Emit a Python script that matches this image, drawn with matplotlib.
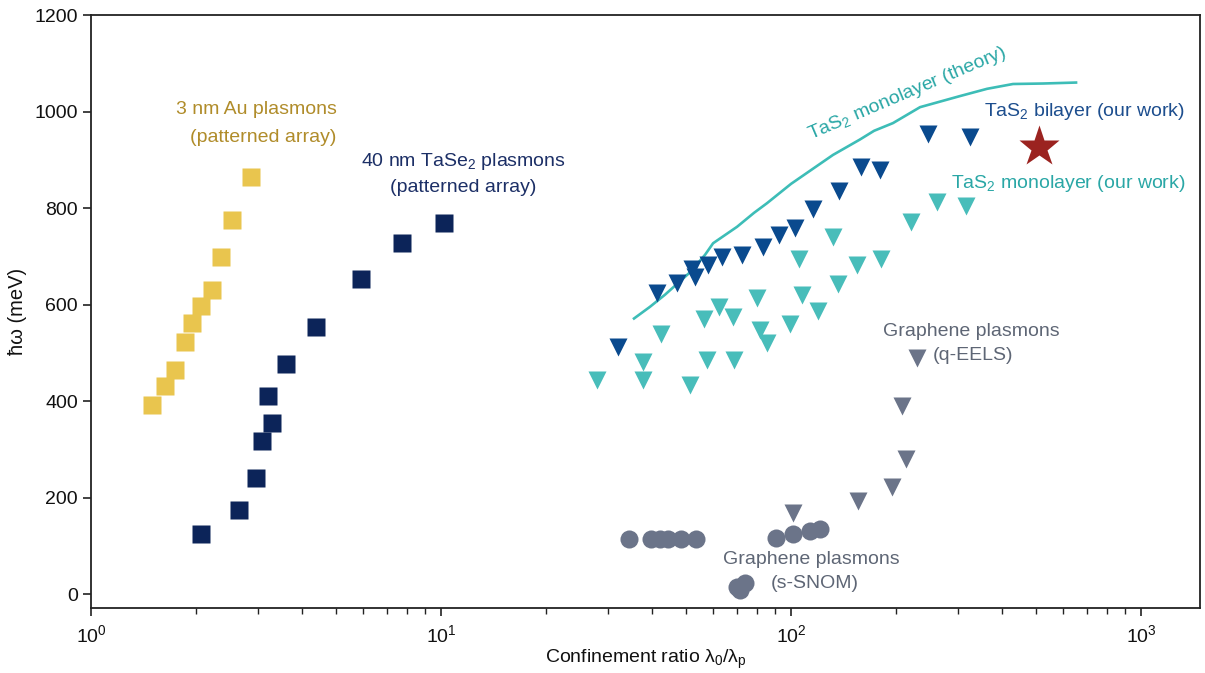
import matplotlib
matplotlib.use("Agg")
import matplotlib.pyplot as plt
import numpy as np

plt.rcParams['font.family'] = ['Liberation Sans', 'DejaVu Sans']
plt.rcParams['mathtext.fontset'] = 'custom'
plt.rcParams['mathtext.rm'] = 'Liberation Sans'
plt.rcParams['mathtext.it'] = 'Liberation Sans:italic'
plt.rcParams['mathtext.default'] = 'regular'

# ---------------- data ----------------
au_x = [1.49, 1.63, 1.74, 1.86, 1.94, 2.06, 2.22, 2.35, 2.53, 2.86]
au_y = [392, 432, 465, 522, 562, 597, 631, 699, 776, 864]

tase2_x = [2.06, 2.64, 2.97, 3.07, 3.28, 3.20, 3.61, 4.40, 5.91, 7.72, 10.2]
tase2_y = [125, 174, 240, 317, 355, 410, 477, 553, 652, 727, 768]

bilayer_x = [32.0, 41.3, 47.2, 52.0, 53.2, 58.0, 63.4, 72.3, 83.0, 92.6, 102.7,
             115.3, 137.4, 158.5, 179.6, 246.3, 323.6]
bilayer_y = [512, 623, 644, 673, 656, 682, 698, 703, 720, 744, 759,
             798, 835, 885, 879, 953, 948]

mono_x = [27.9, 37.7, 37.8, 42.5, 51.6, 56.5, 62.1, 68.1, 57.5, 68.8, 79.9, 81.8,
          85.6, 99.3, 105.4, 107.7, 119.4, 132.2, 136.4, 154.2, 180.8, 219.6,
          260.8, 316.7]
mono_y = [443, 443, 481, 539, 433, 570, 594, 574, 485, 485, 614, 547,
          521, 560, 695, 620, 586, 740, 642, 681, 694, 772, 813, 804]

theory_x = [35.6, 39.5, 43.6, 51.5, 56.8, 59.9, 70.1, 78.4, 85.4, 100.0, 131.8,
            157.4, 172.7, 195.6, 233.7, 304.0, 363.1, 430.8, 524.8, 652.1]
theory_y = [571, 595, 620, 667, 703, 727, 761, 790, 810, 850, 910,
            942, 960, 976, 1009, 1032, 1047, 1057, 1058, 1060]

qeels_x = [101.5, 155.1, 194.8, 213.1, 207.2, 228.7]
qeels_y = [168, 193, 221, 280, 390, 490]

snom_x = [34.5, 39.7, 42.2, 44.6, 48.4, 53.5, 90.7, 101.0, 113.3, 120.8, 70.3, 73.8, 71.5]
snom_y = [115, 115, 115, 115, 115, 115, 117, 124, 130, 134, 14, 23, 8]

star_x = [511]
star_y = [926]

# ---------------- colours ----------------
c_au = '#E9C54E'
c_au_txt = '#B08C2A'
c_tase2 = '#0C2459'
c_tase2_txt = '#1C2F66'
c_bi = '#0A4A8E'
c_bi_txt = '#1D4E8E'
c_mono = '#48BDBA'
c_mono_txt = '#2AA7A6'
c_theory = '#3DBDB7'
c_gr = '#6B7489'
c_gr_txt = '#5E6675'
c_star = '#9B2320'

fig = plt.figure(figsize=(12.05, 6.73), dpi=100)
ax = fig.add_axes([91/1205, 1-608/673, (1200-91)/1205, (608-15)/673])

ax.plot(theory_x, theory_y, color=c_theory, lw=1.9, zorder=2)
ax.plot(au_x, au_y, 's', ms=13, color=c_au, mec='none', zorder=3)
ax.plot(tase2_x, tase2_y, 's', ms=13, color=c_tase2, mec='none', zorder=3)
ax.plot(mono_x, mono_y, 'v', ms=13.5, color=c_mono, mec='none', zorder=3)
ax.plot(bilayer_x, bilayer_y, 'v', ms=13.5, color=c_bi, mec='none', zorder=4)
ax.plot(qeels_x, qeels_y, 'v', ms=13.5, color=c_gr, mec='none', zorder=3)
ax.plot(snom_x, snom_y, 'o', ms=13, color=c_gr, mec='none', zorder=3)
ax.plot(star_x, star_y, '*', ms=31, color=c_star, mec='none', zorder=5)

ax.set_xscale('log')
ax.set_xlim(1, 1474)
ax.set_ylim(-29, 1200)
ax.set_yticks([0, 200, 400, 600, 800, 1000, 1200])

ax.tick_params(axis='both', which='major', direction='out', length=6, width=1.2,
               labelsize=14, color='#222222', labelcolor='#111111')
ax.tick_params(axis='x', which='major', pad=6)
ax.tick_params(axis='x', which='minor', direction='out', length=4, width=1.0,
               color='#222222')
for s in ax.spines.values():
    s.set_linewidth(1.3)
    s.set_color('#222222')

ax.set_xlabel('Confinement ratio λ$_0$/λ$_p$', fontsize=14, color='#111111', labelpad=1)
ax.set_ylabel('ħω (meV)', fontsize=14.5, color='#111111', labelpad=5)

def fx(px):
    return (px - 91) / 1109

def fy(py):
    return (608 - py) / 593

fs = 14

def label(px, py, s, color, **kw):
    ax.text(fx(px), fy(py), s, transform=ax.transAxes, ha='center', va='center',
            color=color, fontsize=fs, **kw)

label(256, 110, '3 nm Au plasmons', c_au_txt)
label(263, 137, '(patterned array)', c_au_txt)
label(463, 161, '40 nm TaSe$_2$ plasmons', c_tase2_txt)
label(463, 187, '(patterned array)', c_tase2_txt)
label(907, 94, 'TaS$_2$ monolayer (theory)', c_mono_txt, rotation=23, rotation_mode='anchor')
label(1084, 112, 'TaS$_2$ bilayer (our work)', c_bi_txt)
label(1068, 183, 'TaS$_2$ monolayer (our work)', c_mono_txt)
label(971, 331, 'Graphene plasmons', c_gr_txt)
label(973, 356, '(q-EELS)', c_gr_txt)
label(811, 560, 'Graphene plasmons', c_gr_txt)
label(815, 584, '(s-SNOM)', c_gr_txt)

fig.savefig('out.png', dpi=100)
